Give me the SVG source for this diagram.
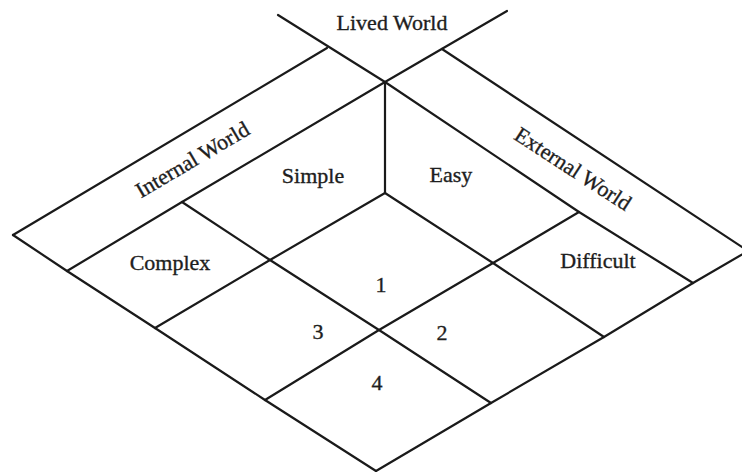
<svg xmlns="http://www.w3.org/2000/svg" width="742" height="472" viewBox="0 0 742 472">
<style>
.ln{fill:none;stroke:#1a1a1a;stroke-width:2.2;stroke-linecap:round;stroke-linejoin:round}
.t{font-family:"Liberation Serif","Times New Roman",serif;font-size:22px;fill:#1e1e1e;stroke:#1e1e1e;stroke-width:0.35;text-anchor:middle}
</style>
<rect width="742" height="472" fill="#ffffff"/>
<g id="lines">
  <polyline class="ln" points="278,15 385,82 579,212 693,283"/>
  <polyline class="ln" points="507,11 385,82 182,202 67,271"/>
  <line class="ln" x1="13" y1="235" x2="327" y2="48"/>
  <line class="ln" x1="442" y1="49" x2="748" y2="251"/>
  <polyline class="ln" points="13,235 67,271 155,328 265,400 376,471"/>
  <polyline class="ln" points="376,471 491,403 604,337 693,283 748,251"/>
  <line class="ln" x1="385" y1="82" x2="385" y2="193"/>
  <polyline class="ln" points="155,328 270,260 385,193"/>
  <polyline class="ln" points="385,193 493,263 604,337"/>
  <polyline class="ln" points="182,202 270,260 379,330 491,403"/>
  <polyline class="ln" points="265,400 379,330 493,263 579,212"/>
</g>
<g id="lived-world"><text class="t" x="392" y="30">Lived World</text></g>
<g id="internal-world"><text class="t" transform="translate(196,166) rotate(-30.5)">Internal World</text></g>
<g id="external-world"><text class="t" transform="translate(569,175) rotate(33)">External World</text></g>
<g id="simple"><text class="t" x="313" y="183">Simple</text></g>
<g id="easy"><text class="t" x="451" y="182">Easy</text></g>
<g id="complex"><text class="t" x="170" y="270">Complex</text></g>
<g id="difficult"><text class="t" x="598" y="268">Difficult</text></g>
<g id="cell-1"><text class="t" x="381" y="292">1</text></g>
<g id="cell-2"><text class="t" x="442" y="340">2</text></g>
<g id="cell-3"><text class="t" x="318" y="339">3</text></g>
<g id="cell-4"><text class="t" x="377" y="390">4</text></g>
</svg>
